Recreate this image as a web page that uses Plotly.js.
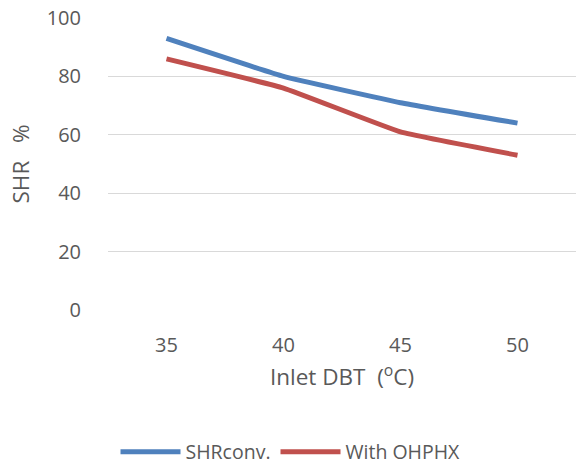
<!DOCTYPE html>
<html><head><meta charset="utf-8">
<script src="https://cdn.plot.ly/plotly-3.0.1.min.js"></script>
<style>body{margin:0;padding:0;background:#fff}#chart{width:581px;height:466px}</style>
</head><body><div id="chart"></div>
<script>
const categories = ["35", "40", "45", "50"];
const shrConv = [93, 80, 71, 64];
const withOHPHX = [86, 76, 61, 53];
const yTicks = [0, 20, 40, 60, 80, 100];

const tickFont = {family: "'Open Sans', sans-serif", size: 20, color: "#595959"};
const titleFont = {family: "'Open Sans', sans-serif", size: 22.5, color: "#595959"};
const legendFont = {family: "'Open Sans', sans-serif", size: 19.5, color: "#595959"};
const traces = [
  {x: categories, y: shrConv, name: "SHRconv.", type: "scatter", mode: "lines",
   line: {color: "#4F81BD", width: 5, shape: "spline", smoothing: 0.3}},
  {x: categories, y: withOHPHX, name: "With OHPHX", type: "scatter", mode: "lines",
   line: {color: "#C0504D", width: 5, shape: "spline", smoothing: 0.3}}
];
const layout = {
  width: 581, height: 466,
  margin: {l: 108, r: 5, t: 18, b: 156, autoexpand: false},
  paper_bgcolor: "#fff", plot_bgcolor: "#fff",
  font: tickFont,
  showlegend: true,
  legend: {orientation: "h", x: 0.5, xanchor: "center", xref: "container",
           yref: "container", y: 0.03, yanchor: "middle",
           font: legendFont, tracegroupgap: 0, itemwidth: 60},
  xaxis: {type: "category", range: [-0.5, 3.5], showgrid: false, zeroline: false, showline: false,
          automargin: false,
          ticks: "outside", ticklen: 17, tickcolor: "rgba(0,0,0,0)", tickfont: tickFont,
          title: {text: "Inlet DBT\u00a0\u00a0(<sup>o</sup>C)", font: titleFont, standoff: 12}, fixedrange: true},
  yaxis: {range: [0, 100], tickvals: yTicks, showgrid: true, gridcolor: "#d9d9d9", gridwidth: 1,
          zeroline: false, showline: false, automargin: false,
          ticks: "outside", ticklen: 22, tickcolor: "rgba(0,0,0,0)", tickfont: tickFont,
          title: {text: "SHR\u00a0\u00a0\u00a0%", font: titleFont, standoff: 10}, fixedrange: true}
};
Plotly.newPlot("chart", traces, layout, {displayModeBar: false, staticPlot: true});
</script></body></html>
